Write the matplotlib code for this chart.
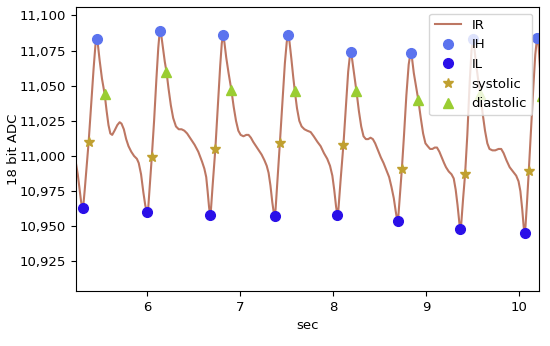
import matplotlib
matplotlib.use("Agg")
import matplotlib.pyplot as plt
from matplotlib.ticker import StrMethodFormatter

# IR trace (time in sec, 18 bit ADC counts), one row per beat
t_ir = [
    5.235, 5.255, 5.275, 5.29, 5.300, 5.307, 5.315, 5.33, 5.35, 5.372, 5.40, 5.425, 5.445,
    5.458, 5.47, 5.49, 5.515, 5.544, 5.565, 5.585, 5.605, 5.625, 5.65, 5.68, 5.705, 5.725,
    5.75, 5.775, 5.80, 5.83, 5.86, 5.89, 5.91, 5.935, 5.96, 5.98, 5.995,
    6.003, 6.012, 6.03, 6.05, 6.075, 6.10, 6.12, 6.132, 6.14, 6.15, 6.17, 6.19, 6.208, 6.23,
    6.255, 6.28, 6.31, 6.34, 6.37, 6.40, 6.43, 6.47, 6.51, 6.55, 6.59, 6.615, 6.635, 6.65,
    6.665,
    6.676, 6.686, 6.705, 6.733, 6.76, 6.785, 6.802, 6.816, 6.83, 6.85, 6.875, 6.905, 6.93,
    6.955, 6.98, 7.005, 7.035, 7.065, 7.09, 7.115, 7.14, 7.17, 7.20, 7.23, 7.26, 7.285,
    7.305, 7.325, 7.345, 7.36,
    7.369, 7.38, 7.40, 7.426, 7.455, 7.48, 7.50, 7.516, 7.53, 7.55, 7.57, 7.587, 7.61, 7.635,
    7.66, 7.69, 7.72, 7.757, 7.79, 7.83, 7.864, 7.90, 7.935, 7.965, 7.99, 8.01, 8.03,
    8.044, 8.055, 8.08, 8.109, 8.135, 8.16, 8.178, 8.188, 8.20, 8.225, 8.249, 8.275, 8.30,
    8.325, 8.35, 8.375, 8.40, 8.425, 8.45, 8.48, 8.511, 8.54, 8.57, 8.60, 8.625, 8.65, 8.67,
    8.685,
    8.691, 8.70, 8.717, 8.737, 8.76, 8.785, 8.81, 8.824, 8.834, 8.845, 8.865, 8.89, 8.913,
    8.94, 8.965, 8.99, 9.014, 9.04, 9.065, 9.09, 9.114, 9.14, 9.165, 9.19, 9.211, 9.24,
    9.27, 9.294, 9.315, 9.335, 9.355,
    9.365, 9.375, 9.395, 9.416, 9.44, 9.465, 9.485, 9.499, 9.512, 9.535, 9.555, 9.58, 9.605,
    9.63, 9.655, 9.678, 9.71, 9.74, 9.775, 9.804, 9.83, 9.86, 9.895, 9.93, 9.965, 9.99,
    10.01, 10.03, 10.045,
    10.055, 10.065, 10.082, 10.10, 10.125, 10.15, 10.17, 10.184, 10.192, 10.205, 10.222,
    10.24,
]
ir = [
    10995, 10987, 10976, 10968, 10964, 10963, 10965, 10976, 10992, 11010, 11037, 11062, 11079,
    11083, 11080, 11068, 11055, 11044, 11032, 11022, 11016, 11015, 11018, 11022, 11024, 11023,
    11019, 11012, 11007, 11003, 11000, 10998, 10995, 10987, 10974, 10965, 10961,
    10960, 10963, 10980, 10999, 11025, 11055, 11077, 11086, 11089, 11087, 11077, 11067, 11060,
    11048, 11036, 11027, 11021, 11019, 11019, 11018, 11016, 11012, 11008, 11003, 10996, 10991,
    10985, 10975, 10964,
    10958, 10962, 10980, 11005, 11035, 11064, 11080, 11086, 11081, 11070, 11059, 11047, 11035,
    11025, 11018, 11015, 11014, 11015, 11015, 11013, 11010, 11007, 11004, 11001, 10997, 10993,
    10988, 10979, 10967, 10960,
    10957, 10962, 10982, 11009, 11040, 11066, 11081, 11086, 11081, 11069, 11056, 11046, 11034,
    11025, 11021, 11019, 11018, 11017, 11014, 11010, 11007, 11002, 10998, 10993, 10986, 10976,
    10964,
    10958, 10962, 10984, 11008, 11035, 11060, 11071, 11074, 11070, 11058, 11046, 11032, 11021,
    11014, 11012, 11012, 11013, 11012, 11009, 11004, 10999, 10995, 10990, 10985, 10978, 10970,
    10961, 10955,
    10954, 10958, 10973, 10991, 11015, 11043, 11065, 11071, 11073, 11070, 11059, 11049, 11040,
    11027, 11016, 11009, 11007, 11005, 11005, 11006, 11006, 11003, 10999, 10995, 10992, 10989,
    10987, 10984, 10976, 10965, 10952,
    10948, 10952, 10970, 10987, 11015, 11052, 11075, 11083, 11079, 11065, 11055, 11044, 11030,
    11018, 11009, 11005, 11004, 11004, 11005, 11005, 11002, 10997, 10992, 10989, 10986, 10982,
    10975, 10962, 10950,
    10945, 10950, 10968, 10989, 11020, 11050, 11072, 11081, 11084, 11079, 11062,
    11043,
]

# peaks (IH) and troughs (IL)
t_ih = [5.458, 6.14, 6.816, 7.516, 8.188, 8.834, 9.499, 10.192]
v_ih = [11083, 11089, 11086, 11086, 11074, 11073, 11083, 11084]
t_il = [5.307, 6.003, 6.676, 7.369, 8.044, 8.691, 9.365, 10.055]
v_il = [10963, 10960, 10958, 10957, 10958, 10954, 10948, 10945]

# systolic / diastolic points
t_sys = [5.372, 6.05, 6.733, 7.426, 8.109, 8.737, 9.416, 10.10]
v_sys = [11010, 10999, 11005, 11009, 11008, 10991, 10987, 10989]
t_dia = [5.544, 6.208, 6.905, 7.587, 8.249, 8.913, 9.58, 10.24]
v_dia = [11044, 11060, 11047, 11046, 11046, 11040, 11044, 11043]

plt.rcParams["font.size"] = 9.5

fig = plt.figure(figsize=(5.5, 3.46), dpi=100)
ax = fig.add_axes([0.138, 0.159, 0.842, 0.821])

ax.plot(t_ir, ir, color="#bd7763", lw=1.5, label="IR")
ax.plot(t_ih, v_ih, "o", ls="", color="#5b73ee", ms=7, label="IH")
ax.plot(t_il, v_il, "o", ls="", color="#2a0fe8", ms=7, label="IL")
ax.plot(t_sys, v_sys, "*", ls="", color="#c0a030", ms=7, label="systolic")
ax.plot(t_dia, v_dia, "^", ls="", color="yellowgreen", ms=7, label="diastolic")

ax.set_xlim(5.235, 10.21)
ax.set_ylim(10904, 11106)
ax.set_xticks([6, 7, 8, 9, 10])
ax.set_yticks([10925, 10950, 10975, 11000, 11025, 11050, 11075, 11100])
ax.yaxis.set_major_formatter(StrMethodFormatter("{x:,.0f}"))
ax.set_xlabel("sec")
ax.set_ylabel("18 bit ADC", labelpad=0)
ax.legend(loc="upper right")

plt.savefig("out.png")
